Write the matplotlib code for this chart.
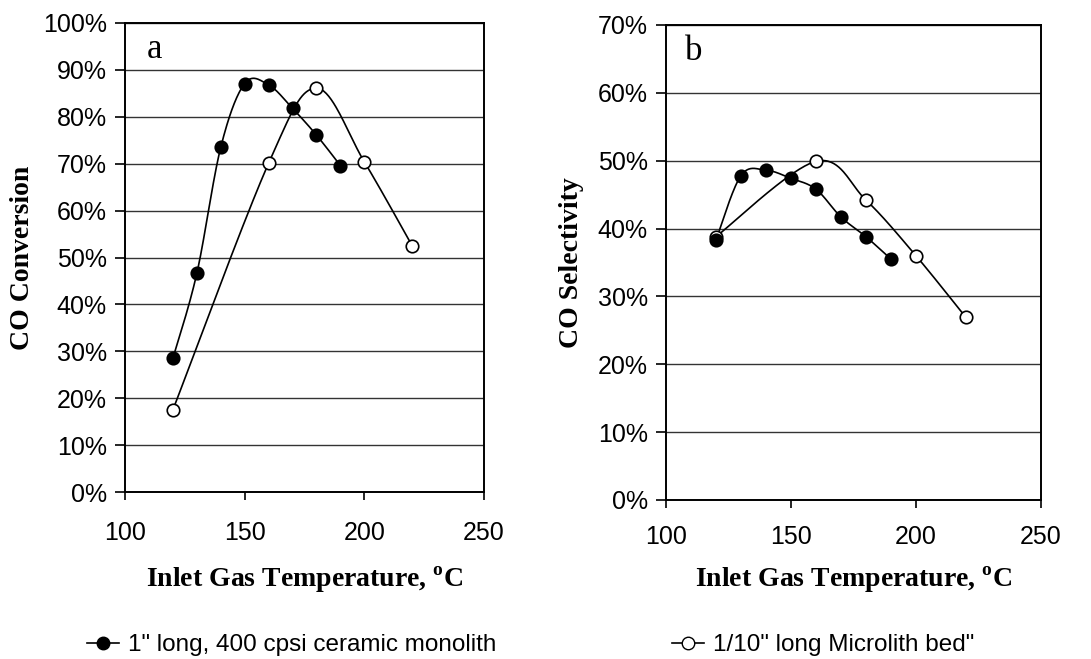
import numpy as np
import matplotlib
matplotlib.use("Agg")
import matplotlib.pyplot as plt
from matplotlib.lines import Line2D
from matplotlib.ticker import FuncFormatter

plt.rcParams['font.family'] = 'Liberation Sans'
plt.rcParams['mathtext.fontset'] = 'custom'
plt.rcParams['mathtext.rm'] = 'Liberation Serif:bold'
plt.rcParams['mathtext.bf'] = 'Liberation Serif:bold'

# --- data ---
temp_mono = [120, 130, 140, 150, 160, 170, 180, 190]
temp_micro = [120, 160, 180, 200, 220]

conv_mono = [28.5, 46.6, 73.5, 87.1, 86.8, 81.8, 76.1, 69.6]
conv_micro = [17.5, 70.1, 86.1, 70.4, 52.5]

sel_mono = [38.3, 47.8, 48.6, 47.4, 45.8, 41.7, 38.8, 35.5]
sel_micro = [38.8, 49.9, 44.2, 36.0, 26.9]

label_mono = '1" long, 400 cpsi ceramic monolith'
label_micro = '1/10" long Microlith bed"'


def smooth_line(ax, xs, ys, n=40):
    # Bezier smoothing like a spreadsheet "smoothed line", done in screen space
    fig = ax.figure
    bb = ax.get_position()
    w = bb.width * fig.get_figwidth()
    h = bb.height * fig.get_figheight()
    x0, x1 = ax.get_xlim()
    y0, y1 = ax.get_ylim()
    px = (np.asarray(xs, float) - x0) / (x1 - x0) * w
    py = (np.asarray(ys, float) - y0) / (y1 - y0) * h
    pts = np.column_stack([px, py])
    pad = np.vstack([pts[0], pts, pts[-1]])
    t = np.linspace(0, 1, n)[:, None]
    out = []
    for i in range(len(pts) - 1):
        p0, p1, p2, p3 = pad[i:i + 4]
        c1 = p1 + (p2 - p0) / 6
        c2 = p2 - (p3 - p1) / 6
        seg = (1 - t) ** 3 * p1 + 3 * (1 - t) ** 2 * t * c1 + 3 * (1 - t) * t ** 2 * c2 + t ** 3 * p2
        out.append(seg if i == 0 else seg[1:])
    out = np.vstack(out)
    sx = out[:, 0] / w * (x1 - x0) + x0
    sy = out[:, 1] / h * (y1 - y0) + y0
    return sx, sy


def style_axes(ax, ymax, xpad):
    ax.set_xlim(100, 250)
    ax.set_ylim(0, ymax)
    ax.set_xticks([100, 150, 200, 250])
    ax.set_yticks(np.arange(0, ymax + 1, 10))
    ax.yaxis.set_major_formatter(FuncFormatter(lambda v, p: f"{v:.0f}%"))
    ax.grid(axis='y', color='#333333', linewidth=1.0)
    ax.set_axisbelow(True)
    for s in ax.spines.values():
        s.set_linewidth(1.4)
        s.set_color('black')
    ax.tick_params(axis='y', direction='out', length=7, width=1.2, pad=6, labelsize=18)
    ax.tick_params(axis='x', direction='out', length=6, width=1.2, pad=xpad, labelsize=18)


def draw_series(ax, xs, ys, filled):
    sx, sy = smooth_line(ax, xs, ys)
    ax.plot(sx, sy, color='black', linewidth=1.2, zorder=3)
    ax.plot(xs, ys, linestyle='none', marker='o', markersize=9,
            markerfacecolor='black' if filled else 'white',
            markeredgecolor='black', markeredgewidth=1.2, zorder=4)


fig = plt.figure(figsize=(10.91, 6.59), dpi=100)
ax1 = fig.add_axes([0.1146, 0.2534, 0.329, 0.7117])
ax2 = fig.add_axes([0.6104, 0.2413, 0.3437, 0.7208])

style_axes(ax1, 100, 15)
style_axes(ax2, 70, 12)

draw_series(ax1, temp_micro, conv_micro, False)
draw_series(ax1, temp_mono, conv_mono, True)
draw_series(ax2, temp_micro, sel_micro, False)
draw_series(ax2, temp_mono, sel_mono, True)

xlab = r'Inlet Gas Temperature, $^{\mathrm{o}}$C'
for ax, ylab, lx, ly, tag, tx, ty in [
        (ax1, 'CO Conversion', -0.287, -0.1876, 'a', 0.061, 0.925),
        (ax2, 'CO Selectivity', -0.251, -0.168, 'b', 0.051, 0.926)]:
    ax.set_xlabel(xlab, family='Liberation Serif', weight='bold', fontsize=20)
    ax.xaxis.label.set_va('center')
    ax.xaxis.set_label_coords(0.5, ly)
    ax.set_ylabel(ylab, family='Liberation Serif', weight='bold', fontsize=20)
    ax.yaxis.label.set_va('center')
    ax.yaxis.set_label_coords(lx, 0.5)
    ax.text(tx, ty, tag, transform=ax.transAxes, family='Liberation Serif',
            fontsize=25, va='baseline', ha='left')

# legend entries below each panel
h_mono = Line2D([], [], color='black', linewidth=1.2, marker='o', markersize=9,
                markerfacecolor='black', markeredgecolor='black')
h_micro = Line2D([], [], color='black', linewidth=1.2, marker='o', markersize=9,
                 markerfacecolor='white', markeredgecolor='black')
for h, lab, x in [(h_mono, label_mono, 0.0797), (h_micro, label_micro, 0.616)]:
    fig.legend([h], [lab], loc='center left', bbox_to_anchor=(x, 0.021),
               frameon=False, fontsize=17.5, handlelength=1.3, handletextpad=0.4,
               borderpad=0, borderaxespad=0)

fig.savefig('out.png', dpi=100)
